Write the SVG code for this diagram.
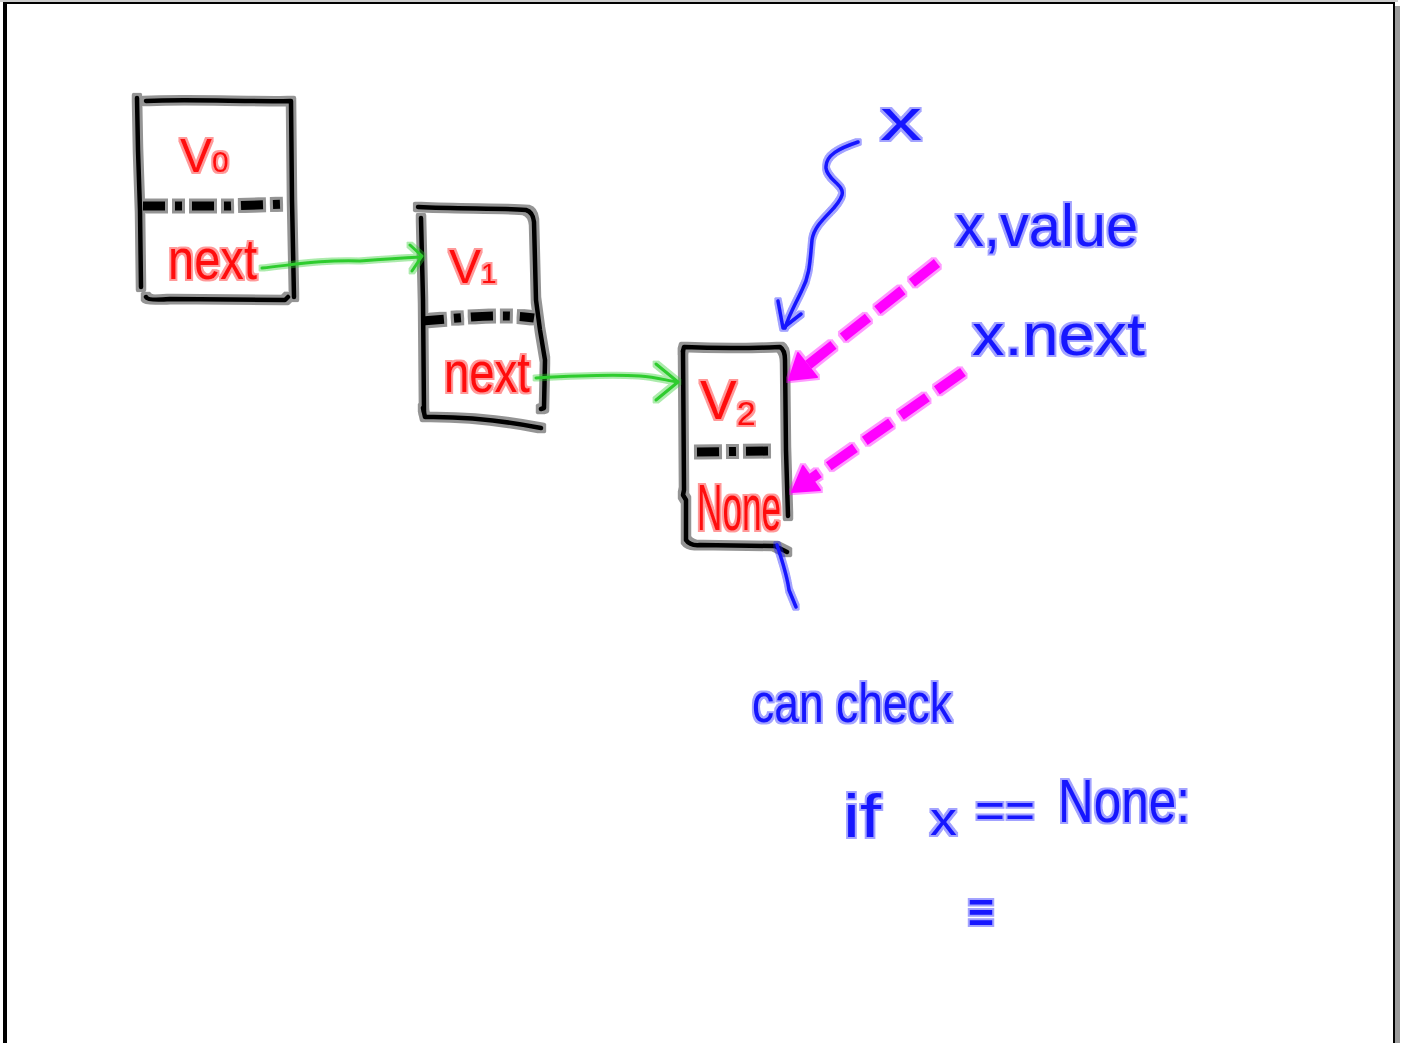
<svg xmlns="http://www.w3.org/2000/svg" width="1403" height="1043" viewBox="0 0 1403 1043">
<defs>
<filter id="glow" x="-10%" y="-10%" width="120%" height="120%">
<feMorphology operator="dilate" radius="2" in="SourceGraphic" result="d"/>
<feComponentTransfer in="d" result="h"><feFuncA type="linear" slope="0.4"/></feComponentTransfer>
<feMerge><feMergeNode in="h"/><feMergeNode in="SourceGraphic"/></feMerge>
</filter>
<filter id="glow2" x="-10%" y="-10%" width="120%" height="120%">
<feMorphology operator="dilate" radius="2.6" in="SourceGraphic" result="d"/>
<feComponentTransfer in="d" result="h"><feFuncA type="linear" slope="0.42"/></feComponentTransfer>
<feMerge><feMergeNode in="h"/><feMergeNode in="SourceGraphic"/></feMerge>
</filter>
<style>
.ink{fill:none;stroke-linecap:round;stroke-linejoin:round}
.box{stroke:#000;stroke-width:4.5}
.div{stroke:#000;stroke-width:9;stroke-linecap:butt;stroke-dasharray:22 10 7 10}
.grn{stroke:#2ecc2e;stroke-width:3}
.blu{stroke:#1414ff;stroke-width:3.5}
.mag{stroke:#ff00ff;stroke-width:10;stroke-linecap:butt;stroke-dasharray:32 12}
.head{fill:#ff00ff;stroke:#ff00ff;stroke-width:2;stroke-linejoin:round}
.red{font-family:"Liberation Sans",Arial,sans-serif;fill:#ff1010}
.bt{font-family:"Liberation Sans",Arial,sans-serif;fill:#1414ff}
</style>
</defs>
<rect x="0" y="0" width="1403" height="1043" fill="#fff"/>
<g id="frame">
<rect x="1395" y="6" width="5" height="1037" fill="#9a9a9a"/>
<line x1="0" y1="1" x2="1398" y2="1" stroke="#ccc" stroke-width="2"/>
<line x1="3" y1="3" x2="1395" y2="3" stroke="#000" stroke-width="2"/>
<line x1="5" y1="3" x2="5" y2="1043" stroke="#000" stroke-width="4"/>
<line x1="1394" y1="3" x2="1394" y2="1043" stroke="#000" stroke-width="2"/>
</g>
<g id="node0">
<g filter="url(#glow2)">
<path class="ink box" d="M137,98 L138,150 L140,210 L141,287"/>
<path class="ink box" d="M146,101 C190,99 250,102 291,101 L292,200 L294,297"/>
<path class="ink box" d="M146,297 Q148,301 170,299 L285,300 L288,297"/>
<path class="ink div" d="M143,206 L230,206 L284,204"/>
</g>
<g filter="url(#glow)">
<text class="red" x="180" y="172" font-size="48">V<tspan font-size="30">0</tspan></text>
<text class="red" x="168" y="279" font-size="58" textLength="89" lengthAdjust="spacingAndGlyphs">next</text>
</g>
</g>
<g id="node1">
<g filter="url(#glow2)">
<path class="ink box" d="M418,207 C460,209 500,208 526,210 Q533,212 534,222 L536,300 L540,330 L545,360 L544,408 L541,409"/>
<path class="ink box" d="M421,218 L423,300 L424,412"/>
<path class="ink box" d="M423,408 L425,417 Q480,416 541,428"/>
<path class="ink div" d="M422,321 C460,318 500,313 534,318"/>
</g>
<g filter="url(#glow)">
<text class="red" x="449" y="283" font-size="48">V<tspan font-size="28">1</tspan></text>
<text class="red" x="444" y="392" font-size="58" textLength="86" lengthAdjust="spacingAndGlyphs">next</text>
</g>
</g>
<g id="node2">
<g filter="url(#glow2)">
<path class="ink box" d="M683,351 L684,347 Q730,349 780,347 Q785,350 785,360 L786,450 L788,516"/>
<path class="ink box" d="M683,351 L684,490 L683,495 L686,500 L686,540 Q690,546 700,545 L775,546 L787,552"/>
<path class="ink div" d="M697,452 L768,451"/>
</g>
<g filter="url(#glow)">
<text class="red" x="700" y="419" font-size="55">V<tspan font-size="34" dy="6">2</tspan></text>
<text class="red" x="697" y="530" font-size="65" textLength="84" lengthAdjust="spacingAndGlyphs">None</text>
</g>
</g>
<g id="connectors" filter="url(#glow)">
<path class="ink grn" d="M262,268 C300,264 320,260 360,261 C385,259 400,258 421,257"/>
<path class="ink grn" d="M410,245 L422,256 L412,271"/>
<path class="ink grn" d="M536,378 C570,376 610,374 640,376 C655,377 665,380 677,382"/>
<path class="ink grn" d="M656,364 L678,382 L656,400"/>
<path class="ink blu" d="M858,142 C840,148 825,155 826,168 C827,180 845,185 842,195 C838,210 815,220 812,240 C810,260 810,275 802,290 C795,305 789,315 785,328"/>
<path class="ink blu" d="M778,301 L783,328 L801,314"/>
<path class="ink blu" d="M777,545 C782,560 787,575 789,590 L796,607"/>
<path class="ink mag" d="M937,263 L808,365"/>
<polygon class="head" points="789,380 817,377 798,353"/>
<path class="ink mag" d="M963,372 L812,478"/>
<polygon class="head" points="792,492 820,490 803,466"/>
</g>
<g filter="url(#glow)">
<g id="label-x">
<text class="bt" x="880" y="140" font-size="60" textLength="42" lengthAdjust="spacingAndGlyphs">x</text>
</g>
<g id="label-xvalue">
<text class="bt" x="955" y="246" font-size="60" textLength="183" lengthAdjust="spacingAndGlyphs">x,value</text>
</g>
<g id="label-xnext">
<text class="bt" x="972" y="355" font-size="60" textLength="173" lengthAdjust="spacingAndGlyphs">x.next</text>
</g>
<g id="note">
<text class="bt" x="752" y="722" font-size="56" textLength="200" lengthAdjust="spacingAndGlyphs">can check</text>
<text class="bt" x="843" y="837" font-size="62" textLength="38" lengthAdjust="spacingAndGlyphs">if</text>
<text class="bt" x="930" y="835" font-size="46" textLength="27" lengthAdjust="spacingAndGlyphs">x</text>
<text class="bt" x="975" y="827" font-size="50" textLength="60" lengthAdjust="spacingAndGlyphs">==</text>
<text class="bt" x="1058" y="822" font-size="61" textLength="132" lengthAdjust="spacingAndGlyphs">None:</text>
<text class="bt" x="966" y="930" font-size="56" textLength="30" lengthAdjust="spacingAndGlyphs" style="font-family:'DejaVu Sans',sans-serif">≡</text>
</g>
</g>
</svg>
